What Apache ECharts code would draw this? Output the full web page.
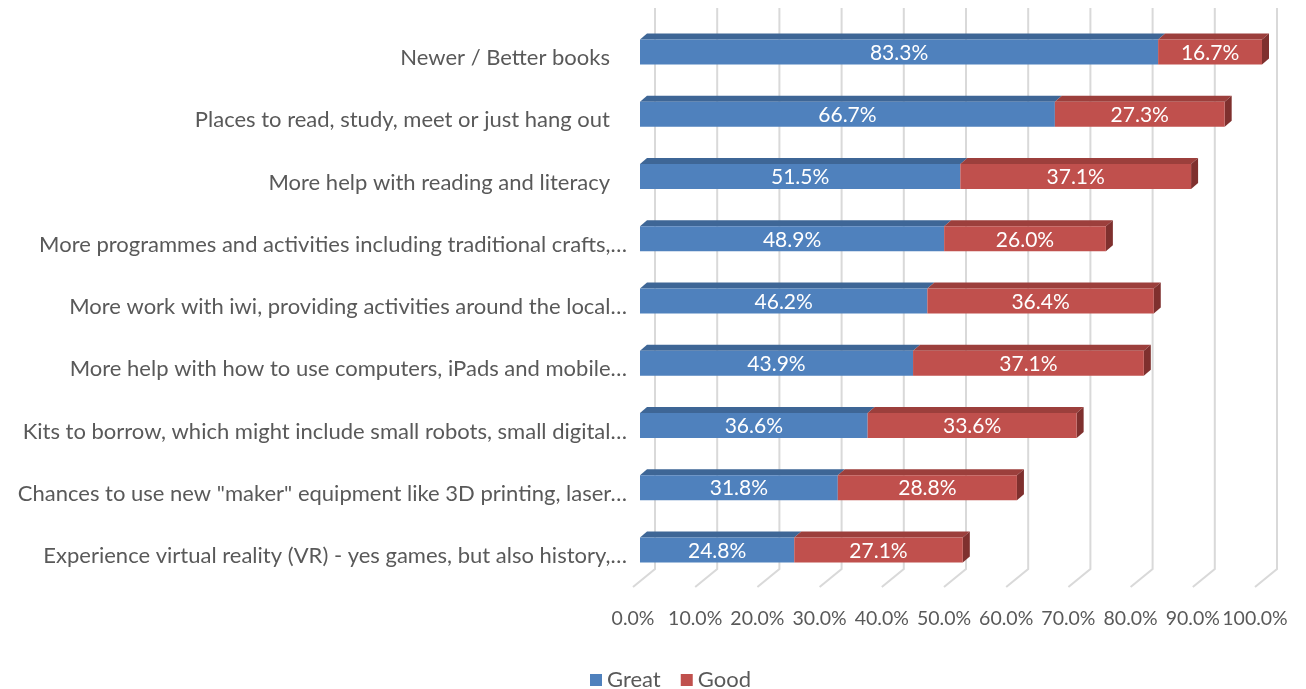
<!DOCTYPE html>
<html>
<head>
<meta charset="utf-8">
<script src="https://cdn.jsdelivr.net/npm/echarts@6/dist/echarts.min.js"></script>
<style>
  html, body { margin: 0; padding: 0; background: #ffffff; }
  #chart { width: 1306px; height: 689px; }
</style>
</head>
<body>
<div id="chart"></div>
<script>
// Survey responses: share rating each library offering "Great" or "Good"
const categories = [
  "Newer / Better books",
  "Places to read, study, meet or just hang out",
  "More help with reading and literacy",
  "More programmes and activities including traditional crafts,\u2026",
  "More work with iwi, providing activities around the local\u2026",
  "More help with how to use computers, iPads and mobile\u2026",
  "Kits to borrow, which might include small robots, small digital\u2026",
  "Chances to use new \"maker\" equipment like 3D printing, laser\u2026",
  "Experience virtual reality (VR) - yes games, but also history,\u2026"
];
const great = [83.3, 66.7, 51.5, 48.9, 46.2, 43.9, 36.6, 31.8, 24.8];
const good  = [16.7, 27.3, 37.1, 26.0, 36.4, 37.1, 33.6, 28.8, 27.1];
const xTicks = [0, 10, 20, 30, 40, 50, 60, 70, 80, 90, 100];

const FONT = 'Lato, "Open Sans", sans-serif';
const TEXT = '#595959';

// depth offsets for the pseudo-3D look
const BAR_DX = 7, BAR_DY = -6, BAR_H = 25, BAR_SHIFT = -6;
const WALL_DX = 22, FLOOR_DY = 18, WALL_TOP = 8;

const palette = {
  Great: { front: '#4F81BD', top: '#3E6696', side: '#34567F' },
  Good:  { front: '#C0504D', top: '#9C3F3C', side: '#7F302E' }
};

function barRender(name, withSide) {
  const c = palette[name];
  return function (params, api) {
    const cat = api.value(0), start = api.value(1), val = api.value(2);
    const p0 = api.coord([start, cat]);
    const p1 = api.coord([start + val, cat]);
    const x0 = p0[0] + BAR_DX, x1 = p1[0] + BAR_DX;
    const yc = p0[1] + BAR_SHIFT;
    const top = yc - BAR_H / 2, bot = yc + BAR_H / 2;
    const children = [
      { type: 'polygon', shape: { points: [[x0, top], [x0 + BAR_DX, top + BAR_DY], [x1 + BAR_DX, top + BAR_DY], [x1, top]] },
        style: { fill: c.top } },
      { type: 'rect', shape: { x: x0, y: top, width: x1 - x0, height: BAR_H },
        style: { fill: c.front } },
      { type: 'text', x: (x0 + x1) / 2, y: yc + 1,
        style: { text: val.toFixed(1) + '%', fill: '#ffffff', font: '21px ' + FONT, align: 'center', verticalAlign: 'middle' } }
    ];
    if (withSide) {
      children.splice(1, 0, { type: 'polygon',
        shape: { points: [[x1, top], [x1 + BAR_DX, top + BAR_DY], [x1 + BAR_DX, bot + BAR_DY], [x1, bot]] },
        style: { fill: c.side } });
    }
    return { type: 'group', children: children };
  };
}

const greatData = great.map((v, i) => [i, 0, v]);
const goodData = good.map((v, i) => [i, great[i], v]);

const chart = echarts.init(document.getElementById('chart'));
chart.setOption({
  animation: false,
  backgroundColor: '#ffffff',
  grid: { left: 633, right: 51, top: 27, bottom: 102 },
  xAxis: {
    type: 'value', min: 0, max: 100, interval: 10,
    axisLine: { show: false }, axisTick: { show: false }, splitLine: { show: false },
    axisLabel: { color: TEXT, fontFamily: FONT, fontSize: 19.5, margin: 22,
      showMinLabel: true, showMaxLabel: true, hideOverlap: false,
      formatter: v => v.toFixed(1) + '%' }
  },
  yAxis: {
    type: 'category', inverse: true, data: categories,
    axisLine: { show: false }, axisTick: { show: false }, splitLine: { show: false },
    axisLabel: {
      color: TEXT, fontFamily: FONT, fontSize: 22, margin: 6,
      formatter: v => v.endsWith('\u2026') ? v : '{p|' + v + '}',
      rich: { p: { color: TEXT, fontFamily: FONT, fontSize: 22, padding: [0, 17, 0, 0] } }
    }
  },
  legend: {
    left: 585, top: 664, itemWidth: 12, itemHeight: 12, itemGap: 20, icon: 'rect',
    textStyle: { color: TEXT, fontFamily: FONT, fontSize: 22 },
    data: ['Great', 'Good']
  },
  series: [
    {
      // wall and floor gridlines
      type: 'custom', name: 'grid', silent: true, z: 1,
      data: xTicks.map(v => [v]),
      encode: { x: 0 },
      renderItem: function (params, api) {
        const x = api.coord([api.value(0), 0])[0];
        const cs = params.coordSys;
        const floorY = cs.y + cs.height;
        return { type: 'polyline',
          shape: { points: [[x + WALL_DX, WALL_TOP], [x + WALL_DX, floorY - FLOOR_DY], [x, floorY]] },
          style: { stroke: '#D9D9D9', lineWidth: 2, fill: null } };
      }
    },
    { type: 'custom', name: 'Great', z: 2, itemStyle: { color: palette.Great.front },
      data: greatData, encode: { x: [1, 2], y: 0 }, renderItem: barRender('Great', false) },
    { type: 'custom', name: 'Good', z: 3, itemStyle: { color: palette.Good.front },
      data: goodData, encode: { x: [1, 2], y: 0 }, renderItem: barRender('Good', true) }
  ]
});
</script>
</body>
</html>
